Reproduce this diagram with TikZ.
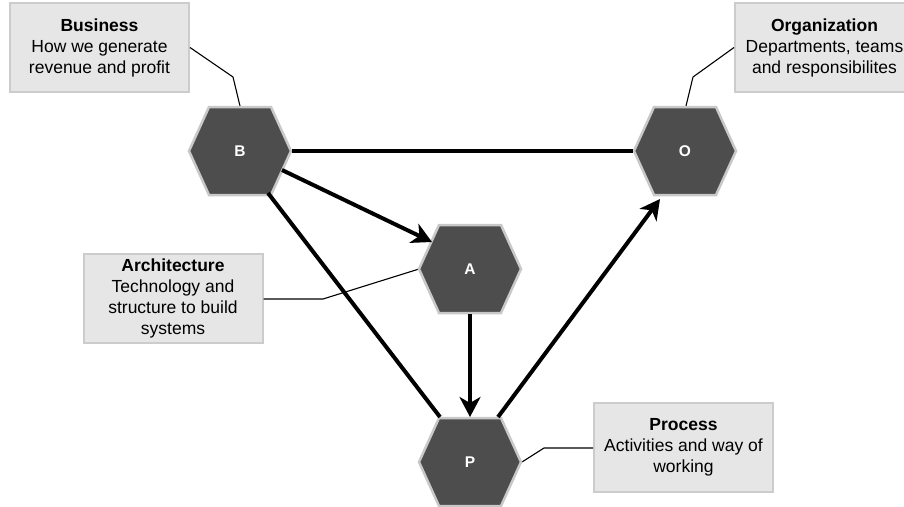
\documentclass[tikz,border=0pt]{standalone}
\usepackage{fontspec}
\setmainfont{Liberation Sans}
\usetikzlibrary{calc,arrows.meta}
\definecolor{hexfill}{HTML}{4D4D4D}
\definecolor{hexline}{HTML}{C8C8C8}
\definecolor{boxfill}{HTML}{E6E6E6}
\definecolor{boxline}{HTML}{CCCCCC}
\tikzset{
  hexlabel/.style={text=white,font=\fontsize{15.5}{18}\selectfont\bfseries,inner sep=0pt},
  hexshape/.style={fill=hexfill,draw=hexline,line width=2.5pt,line join=miter},
  infobox/.style={fill=boxfill,draw=boxline,line width=2pt,minimum width=179pt,minimum height=89pt,
    align=center,inner sep=2pt,font=\fontsize{17.5}{21}\selectfont},
  link/.style={line width=4pt,draw=black},
  arrowlink/.style={link,-{Stealth[length=20pt,width=21pt,inset=6pt]}},
  callout/.style={line width=1.1pt,draw=black}
}
\newcommand{\hexat}[1]{%
  \path[hexshape] ($(#1)+(-51,0)$) -- ($(#1)+(-31,-44)$) -- ($(#1)+(31,-44)$) --
    ($(#1)+(51,0)$) -- ($(#1)+(31,44)$) -- ($(#1)+(-31,44)$) -- cycle;}
\begin{document}
\begin{tikzpicture}[x=1pt,y=-1pt]
\useasboundingbox (0,0) rectangle (904,506);
% centres
\coordinate (Bc) at (240,151);
\coordinate (Oc) at (685,151);
\coordinate (Ac) at (470,269);
\coordinate (Pc) at (470,462);
% callout boxes
\node[infobox] (bus) at (99.5,47.5) {\textbf{Business}\\How we generate\\revenue and profit};
\node[infobox] (org) at (824.5,47.5) {\textbf{Organization}\\Departments, teams\\and responsibilites};
\node[infobox] (arch) at (173,298) {\textbf{Architecture}\\Technology and\\structure to build\\systems};
\node[infobox] (proc) at (683.5,447) {\textbf{Process}\\Activities and way of\\working};
% callout bends
\coordinate (busbend) at (233,77);
\coordinate (orgbend) at (693,77);
\coordinate (archbend) at (323,299);
\coordinate (procbend) at (544,448);
\draw[callout] (bus.east) -- (busbend) -- ($(Bc)+(0,-45)$);
\draw[callout] (org.west) -- (orgbend) -- ($(Oc)+(1,-45)$);
\draw[callout] (arch.east |- archbend) -- (archbend) -- ($(Ac)+(-51,0)$);
\draw[callout] (proc.west |- procbend) -- (procbend) -- ($(Pc)+(52,0)$);
% hexagons
\hexat{Bc}\hexat{Oc}\hexat{Ac}\hexat{Pc}
\node[hexlabel] (B) at (Bc) {B};
\node[hexlabel] (O) at (Oc) {O};
\node[hexlabel] (A) at (Ac) {A};
\node[hexlabel] (P) at (Pc) {P};
% connectors
\draw[link] ($(B)+(52,0)$) -- ($(O)+(-52,0)$);
\draw[arrowlink] ($(B)+(42,19)$) -- ($(A)+(-38,-27)$);
\draw[link] ($(B)+(28,42)$) -- ($(P)+(-30,-45)$);
\draw[arrowlink] ($(A)+(0,45)$) -- ($(P)+(0,-45)$);
\draw[arrowlink] ($(P)+(28,-45)$) -- ($(O)+(-25,48)$);
\end{tikzpicture}
\end{document}
